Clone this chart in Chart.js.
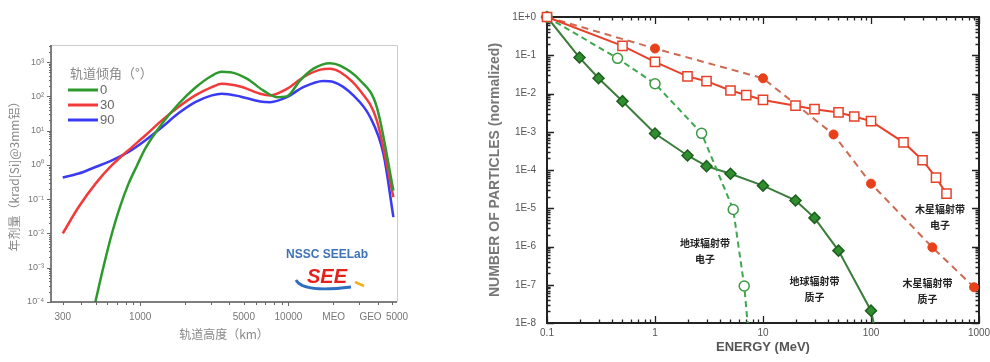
<!DOCTYPE html>
<html>
<head>
<meta charset="utf-8">
<script src="https://cdn.jsdelivr.net/npm/chart.js@4.4.1/dist/chart.umd.min.js"></script>
<style>
  html, body { margin: 0; padding: 0; background: #fff; }
  #wrap { position: relative; width: 990px; height: 362px; overflow: hidden; }
  canvas { position: absolute; top: 0; }
  #dose { left: 0; }
  #spec { left: 480px; }
</style>
</head>
<body>
<div id="wrap">
  <canvas id="dose" width="420" height="362"></canvas>
  <canvas id="spec" width="510" height="362"></canvas>
</div>
<script>
// ---- left chart: yearly dose vs orbit altitude ----
const altTicks = [300, 1000, 5000, 10000, 20200, 35786, 54000];
const altTickLabels = ['300', '1000', '5000', '10000', 'MEO', 'GEO', '5000'];
const doseTicks = [1e-4, 1e-3, 1e-2, 1e-1, 1, 10, 100, 1000];
const inclinations = ['0', '30', '90'];

const alt0 = [498, 566, 644, 733, 833, 950, 1080, 1400, 1810, 2350, 3040, 3550, 4050, 5240, 6780, 8360, 9750, 12000, 14750, 19100, 22300, 30400, 39450, 51050];
const dose0 = [0.0001, 0.0011, 0.01, 0.063, 0.28, 0.95, 3.0, 15.8, 60, 178, 400, 520, 510, 331, 148, 95, 100, 295, 646, 933, 794, 295, 49, 0.18];

const alt30 = [300, 384, 498, 644, 833, 1080, 1400, 1810, 2350, 3040, 3550, 4720, 6440, 7530, 9750, 12600, 16400, 19100, 22300, 30400, 39450, 51050];
const dose30 = [0.01, 0.059, 0.28, 0.98, 2.7, 7.2, 20, 49, 107, 186, 234, 195, 120, 107, 166, 363, 603, 646, 513, 148, 20, 0.115];

const alt90 = [300, 384, 498, 644, 833, 1080, 1400, 1810, 2350, 3040, 3550, 4720, 6440, 7530, 9750, 12600, 17200, 20100, 27400, 35550, 43760, 51050];
const dose90 = [0.43, 0.56, 0.87, 1.35, 2.4, 5.2, 12.6, 32, 68, 107, 120, 100, 71, 68, 95, 186, 282, 263, 107, 25, 2.1, 0.03];

// ---- right chart: normalized energy spectra ----
const energyTicks = [0.1, 1, 10, 100, 1000];
const countTicks = [1, 1e-1, 1e-2, 1e-3, 1e-4, 1e-5, 1e-6, 1e-7, 1e-8];
const countLabels = ['1E+0', '1E-1', '1E-2', '1E-3', '1E-4', '1E-5', '1E-6', '1E-7', '1E-8'];

// 地球辐射带质子
const earthProtonE = [0.1, 0.2, 0.3, 0.5, 1, 2, 3, 5, 10, 20, 30, 50, 100, 110];
const earthProtonN = [1, 0.087, 0.025, 0.0063, 9e-4, 2.4e-4, 1.26e-4, 8e-5, 3.9e-5, 1.6e-5, 5.6e-6, 7.8e-7, 2.1e-8, 6e-9];
// 地球辐射带电子
const earthElectronE = [0.1, 0.45, 1, 2.7, 5.3, 6.7, 7.3];
const earthElectronN = [1, 0.083, 0.018, 9.1e-4, 9.3e-6, 9.3e-8, 6.6e-9];
// 木星辐射带电子
const jupiterElectronE = [0.1, 0.5, 1, 2, 3, 5, 7, 10, 20, 30, 50, 70, 100, 200, 300, 400, 500];
const jupiterElectronN = [1, 0.176, 0.067, 0.028, 0.021, 0.012, 0.0091, 0.0068, 0.0048, 0.0039, 0.0032, 0.0025, 0.0019, 5.3e-4, 1.8e-4, 6.3e-5, 2.4e-5];
// 木星辐射带质子
const jupiterProtonE = [0.1, 1, 10, 45, 100, 370, 900];
const jupiterProtonN = [1, 0.15, 0.025, 8.5e-4, 4.4e-5, 9.5e-7, 8.6e-8];

const beltNotes = [
  { lines: ['地球辐射带', '电子'], e: 2.9, n: 7.4e-7 },
  { lines: ['地球辐射带', '质子'], e: 30, n: 7.6e-8 },
  { lines: ['木星辐射带', '电子'], e: 435, n: 6.0e-6 },
  { lines: ['木星辐射带', '质子'], e: 334, n: 6.9e-8 }
];

const toPts = (xs, ys) => xs.map((x, i) => ({ x, y: ys[i] }));
const sup = { '-': '⁻', '0': '⁰', '1': '¹', '2': '²', '3': '³', '4': '⁴' };
const CJK = '"Noto Sans CJK SC", sans-serif';
const SANS = '"Liberation Sans", Arial, sans-serif';

function logValues(min, max) {
  const out = [];
  for (let e = Math.floor(Math.log10(min)); e <= Math.ceil(Math.log10(max)); e++) {
    for (let m = 1; m <= 9; m++) {
      const v = m * Math.pow(10, e);
      if (v >= min * 0.999 && v <= max * 1.001) out.push({ v, major: m === 1 });
    }
  }
  return out;
}

const doseDecor = {
  id: 'doseDecor',
  afterDatasetsDraw(chart) {
    const { ctx, chartArea: a, scales: { x, y } } = chart;
    ctx.save();
    ctx.strokeStyle = '#cdcdcd';
    ctx.lineWidth = 1;
    ctx.beginPath();
    ctx.moveTo(a.left, a.top + 0.5);
    ctx.lineTo(a.right + 0.5, a.top + 0.5);
    ctx.lineTo(a.right + 0.5, a.bottom);
    ctx.stroke();
    ctx.strokeStyle = '#555';
    ctx.lineWidth = 1.5;
    ctx.beginPath();
    ctx.moveTo(a.left, a.top);
    ctx.lineTo(a.left, a.bottom);
    ctx.lineTo(a.right, a.bottom);
    ctx.stroke();
    ctx.lineWidth = 1;
    ctx.strokeStyle = '#666';
    for (const t of logValues(y.min, y.max)) {
      const py = Math.round(y.getPixelForValue(t.v)) + 0.5;
      ctx.beginPath();
      ctx.moveTo(a.left, py);
      ctx.lineTo(a.left - (t.major ? 4 : 2), py);
      ctx.stroke();
    }
    for (const t of logValues(x.min, x.max)) {
      const px = Math.round(x.getPixelForValue(t.v)) + 0.5;
      ctx.beginPath();
      ctx.moveTo(px, a.bottom);
      ctx.lineTo(px, a.bottom + (t.major ? 4 : 3));
      ctx.stroke();
    }

    // legend
    const lx = a.left + 17, ly = a.top + 28;
    ctx.fillStyle = '#888';
    ctx.font = '13px ' + CJK;
    ctx.textAlign = 'left';
    ctx.textBaseline = 'middle';
    ctx.fillText('轨道倾角（°）', lx + 2, ly);
    chart.data.datasets.forEach((ds, i) => {
      const yy = ly + 17 + i * 15;
      ctx.strokeStyle = ds.borderColor;
      ctx.lineWidth = 3;
      ctx.beginPath();
      ctx.moveTo(lx, yy);
      ctx.lineTo(lx + 30, yy);
      ctx.stroke();
      ctx.fillStyle = '#666';
      ctx.font = '13px ' + SANS;
      ctx.fillText(ds.label, lx + 32, yy);
    });

    // lab logo
    const cx = a.right - 70;
    ctx.textAlign = 'center';
    ctx.fillStyle = '#3d72b4';
    ctx.font = 'bold 12px ' + SANS;
    ctx.fillText('NSSC SEELab', cx, a.bottom - 47);
    ctx.strokeStyle = '#2f6fc0';
    ctx.lineWidth = 3;
    ctx.beginPath();
    ctx.moveTo(cx - 31, a.bottom - 22);
    ctx.quadraticCurveTo(cx - 24, a.bottom - 9, cx + 24, a.bottom - 15);
    ctx.stroke();
    ctx.strokeStyle = '#f0b020';
    ctx.lineWidth = 2.5;
    ctx.beginPath();
    ctx.moveTo(cx + 28, a.bottom - 20);
    ctx.lineTo(cx + 37, a.bottom - 16);
    ctx.stroke();
    ctx.fillStyle = '#e8201c';
    ctx.font = 'italic bold 20px ' + SANS;
    ctx.fillText('SEE', cx, a.bottom - 25);
    ctx.restore();
  }
};

new Chart(document.getElementById('dose'), {
  type: 'line',
  data: {
    datasets: [
      { label: inclinations[0], data: toPts(alt0, dose0), borderColor: '#2e9a2e' },
      { label: inclinations[1], data: toPts(alt30, dose30), borderColor: '#f23a3a' },
      { label: inclinations[2], data: toPts(alt90, dose90), borderColor: '#3a3af5' }
    ].map(d => Object.assign(d, { borderWidth: 2.5, pointRadius: 0, fill: false, cubicInterpolationMode: 'monotone' }))
  },
  options: {
    responsive: false,
    animation: false,
    devicePixelRatio: 1,
    layout: { padding: { top: 45, right: 23, left: 0, bottom: 0 } },
    plugins: { legend: { display: false }, tooltip: { enabled: false } },
    scales: {
      x: {
        type: 'logarithmic',
        min: 250,
        max: 54000,
        grid: { display: false, drawTicks: false },
        border: { display: false },
        afterBuildTicks: s => { s.ticks = altTicks.map(v => ({ value: v })); },
        afterFit: s => { s.height = 60; s.paddingLeft = 0; s.paddingRight = 0; },
        ticks: {
          autoSkip: false, maxRotation: 0, padding: 9,
          color: '#777', font: { size: 10, family: SANS },
          callback: (v, i) => altTickLabels[i]
        },
        title: {
          display: true, text: '轨道高度（km）', color: '#888',
          font: { size: 12, family: CJK }, padding: { top: 4, bottom: 20 }
        }
      },
      y: {
        type: 'logarithmic',
        min: 1e-4,
        max: Math.pow(10, 3.5),
        grid: { display: false, drawTicks: false },
        border: { display: false },
        afterBuildTicks: s => { s.ticks = doseTicks.map(v => ({ value: v })); },
        afterFit: s => { s.width = 51; },
        ticks: {
          autoSkip: false, padding: 7,
          color: '#777', font: { size: 9, family: SANS },
          callback: v => '10' + String(Math.round(Math.log10(v))).split('').map(c => sup[c]).join('')
        },
        title: {
          display: true, text: '年剂量（krad[Si]@3mm铝）', color: '#888',
          font: { size: 12, family: CJK }, padding: { top: 7, bottom: 0 }
        }
      }
    }
  },
  plugins: [doseDecor]
});

const specDecor = {
  id: 'specDecor',
  beforeDatasetsDraw(chart) {
    const { ctx, chartArea: a, scales: { x, y } } = chart;
    ctx.save();
    ctx.strokeStyle = '#222';
    ctx.lineWidth = 1.3;
    for (const t of logValues(x.min, x.max)) {
      const px = Math.round(x.getPixelForValue(t.v)) + 0.5;
      const len = t.major ? 7 : 3.5;
      ctx.beginPath();
      ctx.moveTo(px, a.bottom); ctx.lineTo(px, a.bottom - len);
      ctx.moveTo(px, a.top); ctx.lineTo(px, a.top + len);
      ctx.stroke();
    }
    for (const t of logValues(y.min, y.max)) {
      const py = Math.round(y.getPixelForValue(t.v)) + 0.5;
      const len = t.major ? 7 : 3.5;
      ctx.beginPath();
      ctx.moveTo(a.left, py); ctx.lineTo(a.left + len, py);
      ctx.moveTo(a.right, py); ctx.lineTo(a.right - len, py);
      ctx.stroke();
    }
    ctx.lineWidth = 2;
    ctx.strokeRect(a.left, a.top, a.right - a.left, a.bottom - a.top);
    ctx.restore();
  },
  afterDatasetsDraw(chart) {
    const { ctx, scales: { x, y } } = chart;
    ctx.save();
    ctx.fillStyle = '#222';
    ctx.font = 'bold 10px ' + CJK;
    ctx.textAlign = 'center';
    ctx.textBaseline = 'middle';
    for (const n of beltNotes) {
      const px = x.getPixelForValue(n.e), py = y.getPixelForValue(n.n);
      ctx.fillText(n.lines[0], px, py - 8);
      ctx.fillText(n.lines[1], px, py + 8);
    }
    ctx.restore();
  }
};

const lastHidden = (len, r) => Array.from({ length: len }, (_, i) => (i === len - 1 ? 0 : r));

new Chart(document.getElementById('spec'), {
  type: 'line',
  data: {
    datasets: [
      {
        label: '木星辐射带电子', data: toPts(jupiterElectronE, jupiterElectronN),
        borderColor: '#e8412a', borderWidth: 2,
        pointStyle: 'rect', pointRadius: 6.5, pointBorderWidth: 1.5,
        pointBackgroundColor: '#fff', pointBorderColor: '#e8412a'
      },
      {
        label: '木星辐射带质子', data: toPts(jupiterProtonE, jupiterProtonN),
        borderColor: '#cc6a52', borderWidth: 2, borderDash: [7, 5],
        pointStyle: 'circle', pointRadius: 4.5, pointBorderWidth: 1,
        pointBackgroundColor: '#e8401a', pointBorderColor: '#e8401a'
      },
      {
        label: '地球辐射带电子', data: toPts(earthElectronE, earthElectronN),
        borderColor: '#3ea84e', borderWidth: 2, borderDash: [6, 4],
        pointStyle: 'circle', pointRadius: lastHidden(earthElectronE.length, 5), pointBorderWidth: 1.5,
        pointBackgroundColor: '#fff', pointBorderColor: '#3a9a45'
      },
      {
        label: '地球辐射带质子', data: toPts(earthProtonE, earthProtonN),
        borderColor: '#3b7d3b', borderWidth: 2,
        pointStyle: 'rectRot', pointRadius: lastHidden(earthProtonE.length, 5.5), pointBorderWidth: 1.5,
        pointBackgroundColor: '#2f8f2f', pointBorderColor: '#1e5e1e'
      }
    ].map(d => Object.assign(d, { fill: false, tension: 0, clip: { left: 8, top: 8, right: 8, bottom: 0 } }))
  },
  options: {
    responsive: false,
    animation: false,
    devicePixelRatio: 1,
    layout: { padding: { top: 16, right: 11, left: 0, bottom: 0 } },
    plugins: { legend: { display: false }, tooltip: { enabled: false } },
    scales: {
      x: {
        type: 'logarithmic',
        min: 0.1,
        max: 1000,
        grid: { display: false, drawTicks: false },
        border: { display: false },
        afterBuildTicks: s => { s.ticks = energyTicks.map(v => ({ value: v })); },
        afterFit: s => { s.height = 39; s.paddingLeft = 0; s.paddingRight = 0; },
        ticks: {
          autoSkip: false, maxRotation: 0, padding: 4,
          color: '#555', font: { size: 10, family: SANS },
          callback: (v, i) => String(energyTicks[i])
        },
        title: {
          display: true, text: 'ENERGY (MeV)', color: '#555',
          font: { size: 13, weight: 'bold', family: SANS }, padding: { top: 2, bottom: 7 }
        }
      },
      y: {
        type: 'logarithmic',
        min: 1e-8,
        max: 1,
        grid: { display: false, drawTicks: false },
        border: { display: false },
        afterBuildTicks: s => { s.ticks = countTicks.map(v => ({ value: v })); },
        afterFit: s => { s.width = 67; },
        ticks: {
          autoSkip: false, padding: 11,
          color: '#555', font: { size: 10, family: SANS },
          callback: (v, i) => countLabels[i]
        },
        title: {
          display: true, text: 'NUMBER OF PARTICLES (normalized)', color: '#777',
          font: { size: 14, weight: 'bold', family: SANS }, padding: { top: 7, bottom: 0 }
        }
      }
    }
  },
  plugins: [specDecor]
});
</script>
</body>
</html>
